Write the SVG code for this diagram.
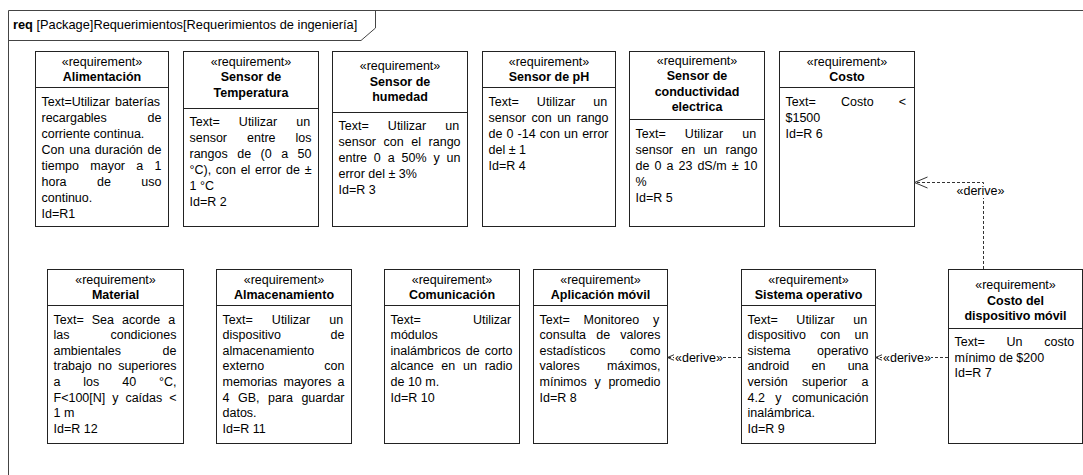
<svg xmlns="http://www.w3.org/2000/svg" width="1083" height="475" viewBox="0 0 1083 475">
<style>
text{font-family:"Liberation Sans",Arial,sans-serif;font-size:12.5px;fill:#000}
.c{text-anchor:middle}
.n{text-anchor:middle;font-weight:bold}
.bx{fill:#fff;stroke:#222;stroke-width:1}
.dv{stroke:#222;stroke-width:1;fill:none}
.fr{fill:none;stroke:#444;stroke-width:1}
.cn{fill:none;stroke:#333;stroke-width:1;stroke-dasharray:3 2}
.bg{fill:#fff}
</style>
<defs>
<marker id="oa" markerUnits="userSpaceOnUse" markerWidth="16" markerHeight="14" viewBox="0 0 16 14" refX="14" refY="7" orient="auto">
<path d="M1,1.5 L14,7 L1,12.5" fill="none" stroke="#333" stroke-width="1"/>
</marker>
</defs>
<g id="frame">
<path class="fr" d="M8.5,475 V10.5 H1083"/>
<path class="fr" d="M375.5,10.5 V28 L361,40.5 H8.5"/>
<text x="13" y="28.5" style="font-size:12.8px"><tspan font-weight="bold">req</tspan> [Package]Requerimientos[Requerimientos de ingeniería]</text>
</g>
<g id="alimentacion">
<rect class="bx" x="35.5" y="51.5" width="133" height="175"/>
<line class="dv" x1="35.5" y1="87.5" x2="168.5" y2="87.5"/>
<text class="c" x="102" y="65.5">«requirement»</text>
<text class="n" x="102" y="81">Alimentación</text>
<text x="41.5" y="105.5" word-spacing="1.56">Text=Utilizar baterías</text>
<text x="41.5" y="121.5" word-spacing="37.3">recargables de</text>
<text x="41.5" y="137.5">corriente continua.</text>
<text x="41.5" y="153.5" word-spacing="1.32">Con una duración de</text>
<text x="41.5" y="169.5" word-spacing="7.81">tiempo mayor a 1</text>
<text x="41.5" y="185.5" word-spacing="27">hora de uso</text>
<text x="41.5" y="201.5">continuo.</text>
<text x="41.5" y="217.5">Id=R1</text>
</g>
<g id="sensor-temperatura">
<rect class="bx" x="183.5" y="51.5" width="135" height="175"/>
<line class="dv" x1="183.5" y1="108.5" x2="318.5" y2="108.5"/>
<text class="c" x="251" y="65.5">«requirement»</text>
<text class="n" x="251" y="81">Sensor de</text>
<text class="n" x="251" y="96.5">Temperatura</text>
<text x="189.5" y="126" word-spacing="15.67">Text= Utilizar un</text>
<text x="189.5" y="142" word-spacing="16.54">sensor entre los</text>
<text x="189.5" y="158" word-spacing="6">rangos de (0 a 50</text>
<text x="189.5" y="174" word-spacing="1.19">°C), con el error de ±</text>
<text x="189.5" y="190">1 °C</text>
<text x="189.5" y="206">Id=R 2</text>
</g>
<g id="sensor-humedad">
<rect class="bx" x="332.5" y="51.5" width="135" height="175"/>
<line class="dv" x1="332.5" y1="112.5" x2="467.5" y2="112.5"/>
<text class="c" x="400" y="70">«requirement»</text>
<text class="n" x="400" y="85.5">Sensor de</text>
<text class="n" x="400" y="101">humedad</text>
<text x="338.5" y="130" word-spacing="15.67">Text= Utilizar un</text>
<text x="338.5" y="146" word-spacing="4.08">sensor con el rango</text>
<text x="338.5" y="162" word-spacing="3.41">entre 0 a 50% y un</text>
<text x="338.5" y="178">error del ± 3%</text>
<text x="338.5" y="194">Id=R 3</text>
</g>
<g id="sensor-ph">
<rect class="bx" x="482.5" y="51.5" width="133" height="175"/>
<line class="dv" x1="482.5" y1="87.5" x2="615.5" y2="87.5"/>
<text class="c" x="549" y="65.5">«requirement»</text>
<text class="n" x="549" y="81">Sensor de pH</text>
<text x="488.5" y="105.5" word-spacing="14.67">Text= Utilizar un</text>
<text x="488.5" y="121.5" word-spacing="2.02">sensor con un rango</text>
<text x="488.5" y="137.5" word-spacing="0.66">de 0 -14 con un error</text>
<text x="488.5" y="153.5">del ± 1</text>
<text x="488.5" y="169.5">Id=R 4</text>
</g>
<g id="sensor-conductividad">
<rect class="bx" x="629.5" y="51.5" width="135" height="175"/>
<line class="dv" x1="629.5" y1="119.5" x2="764.5" y2="119.5"/>
<text class="c" x="697" y="64.5">«requirement»</text>
<text class="n" x="697" y="80">Sensor de</text>
<text class="n" x="697" y="95.5">conductividad</text>
<text class="n" x="697" y="111">electrica</text>
<text x="635.5" y="137.5" word-spacing="15.67">Text= Utilizar un</text>
<text x="635.5" y="153.5" word-spacing="4.77">sensor en un rango</text>
<text x="635.5" y="169.5" word-spacing="1.58">de 0 a 23 dS/m ± 10</text>
<text x="635.5" y="185.5">%</text>
<text x="635.5" y="201.5">Id=R 5</text>
</g>
<g id="costo">
<rect class="bx" x="779.5" y="51.5" width="135" height="175"/>
<line class="dv" x1="779.5" y1="87.5" x2="914.5" y2="87.5"/>
<text class="c" x="847" y="65.5">«requirement»</text>
<text class="n" x="847" y="81">Costo</text>
<text x="785.5" y="105.5" word-spacing="21.74">Text= Costo &lt;</text>
<text x="785.5" y="121.5">$1500</text>
<text x="785.5" y="137.5">Id=R 6</text>
</g>
<g id="material">
<rect class="bx" x="47.5" y="269.5" width="136" height="174"/>
<line class="dv" x1="47.5" y1="305.5" x2="183.5" y2="305.5"/>
<text class="c" x="115.5" y="283.5">«requirement»</text>
<text class="n" x="115.5" y="299">Material</text>
<text x="53.5" y="323.5" word-spacing="4.52">Text= Sea acorde a</text>
<text x="53.5" y="339.1" word-spacing="37.5">las condiciones</text>
<text x="53.5" y="354.7" word-spacing="38.2">ambientales de</text>
<text x="53.5" y="370.3" word-spacing="2.8">trabajo no superiores</text>
<text x="53.5" y="385.9" word-spacing="19.42">a los 40 °C,</text>
<text x="53.5" y="401.5" word-spacing="3.48">F&lt;100[N] y caídas &lt;</text>
<text x="53.5" y="417.1">1 m</text>
<text x="53.5" y="432.7">Id=R 12</text>
</g>
<g id="almacenamiento">
<rect class="bx" x="216.5" y="269.5" width="135" height="174"/>
<line class="dv" x1="216.5" y1="305.5" x2="351.5" y2="305.5"/>
<text class="c" x="284" y="283.5">«requirement»</text>
<text class="n" x="284" y="299">Almacenamiento</text>
<text x="222.5" y="323.5" word-spacing="15.67">Text= Utilizar un</text>
<text x="222.5" y="339.1" word-spacing="46.28">dispositivo de</text>
<text x="222.5" y="354.7">almacenamiento</text>
<text x="222.5" y="370.3" word-spacing="56.69">externo con</text>
<text x="222.5" y="385.9" word-spacing="2.66">memorias mayores a</text>
<text x="222.5" y="401.5" word-spacing="5">4 GB, para guardar</text>
<text x="222.5" y="417.1">datos.</text>
<text x="222.5" y="432.7">Id=R 11</text>
</g>
<g id="comunicacion">
<rect class="bx" x="384.5" y="269.5" width="135" height="174"/>
<line class="dv" x1="384.5" y1="305.5" x2="519.5" y2="305.5"/>
<text class="c" x="452" y="283.5">«requirement»</text>
<text class="n" x="452" y="299">Comunicación</text>
<text x="390.5" y="323.5" word-spacing="48.73">Text= Utilizar</text>
<text x="390.5" y="339.1">módulos</text>
<text x="390.5" y="354.7" word-spacing="1.61">inalámbricos de corto</text>
<text x="390.5" y="370.3" word-spacing="4.3">alcance en un radio</text>
<text x="390.5" y="385.9">de 10 m.</text>
<text x="390.5" y="401.5">Id=R 10</text>
</g>
<g id="aplicacion-movil">
<rect class="bx" x="533.5" y="269.5" width="134" height="174"/>
<line class="dv" x1="533.5" y1="305.5" x2="667.5" y2="305.5"/>
<text class="c" x="600.5" y="283.5">«requirement»</text>
<text class="n" x="600.5" y="299">Aplicación móvil</text>
<text x="539.5" y="323.5" word-spacing="10.31">Text= Monitoreo y</text>
<text x="539.5" y="339.1" word-spacing="6.66">consulta de valores</text>
<text x="539.5" y="354.7" word-spacing="20.97">estadísticos como</text>
<text x="539.5" y="370.3" word-spacing="23.76">valores máximos,</text>
<text x="539.5" y="385.9" word-spacing="4.24">mínimos y promedio</text>
<text x="539.5" y="401.5">Id=R 8</text>
</g>
<g id="sistema-operativo">
<rect class="bx" x="741.5" y="269.5" width="134" height="174"/>
<line class="dv" x1="741.5" y1="305.5" x2="875.5" y2="305.5"/>
<text class="c" x="808.5" y="283.5">«requirement»</text>
<text class="n" x="808.5" y="299">Sistema operativo</text>
<text x="747.5" y="323.5" word-spacing="15.17">Text= Utilizar un</text>
<text x="747.5" y="339.1" word-spacing="10.83">dispositivo con un</text>
<text x="747.5" y="354.7" word-spacing="23.05">sistema operativo</text>
<text x="747.5" y="370.3" word-spacing="18.81">android en una</text>
<text x="747.5" y="385.9" word-spacing="10.83">versión superior a</text>
<text x="747.5" y="401.5" word-spacing="7">4.2 y comunicación</text>
<text x="747.5" y="417.1">inalámbrica.</text>
<text x="747.5" y="432.7">Id=R 9</text>
</g>
<g id="costo-dispositivo-movil">
<rect class="bx" x="948.5" y="269.5" width="134" height="174"/>
<line class="dv" x1="948.5" y1="328.5" x2="1082.5" y2="328.5"/>
<text class="c" x="1015.5" y="289">«requirement»</text>
<text class="n" x="1015.5" y="304.5">Costo del</text>
<text class="n" x="1015.5" y="320">dispositivo móvil</text>
<text x="954.5" y="346" word-spacing="18.3">Text= Un costo</text>
<text x="954.5" y="361.6">mínimo de $200</text>
<text x="954.5" y="377.2">Id=R 7</text>
</g>
<g id="connectors">
<path class="cn" d="M983.5,269 V182.5 H914.5" marker-end="url(#oa)"/>
<rect class="bg" x="956" y="184" width="49" height="14"/>
<text class="c" x="980.5" y="195">«derive»</text>
<path class="cn" d="M948,357.5 H875.5" marker-end="url(#oa)"/>
<rect class="bg" x="882" y="350" width="49" height="14"/>
<text x="883" y="361.5">«derive»</text>
<path class="cn" d="M741,357.5 H667.5" marker-end="url(#oa)"/>
<rect class="bg" x="674" y="350" width="49" height="14"/>
<text x="675" y="361.5">«derive»</text>
</g>
</svg>
